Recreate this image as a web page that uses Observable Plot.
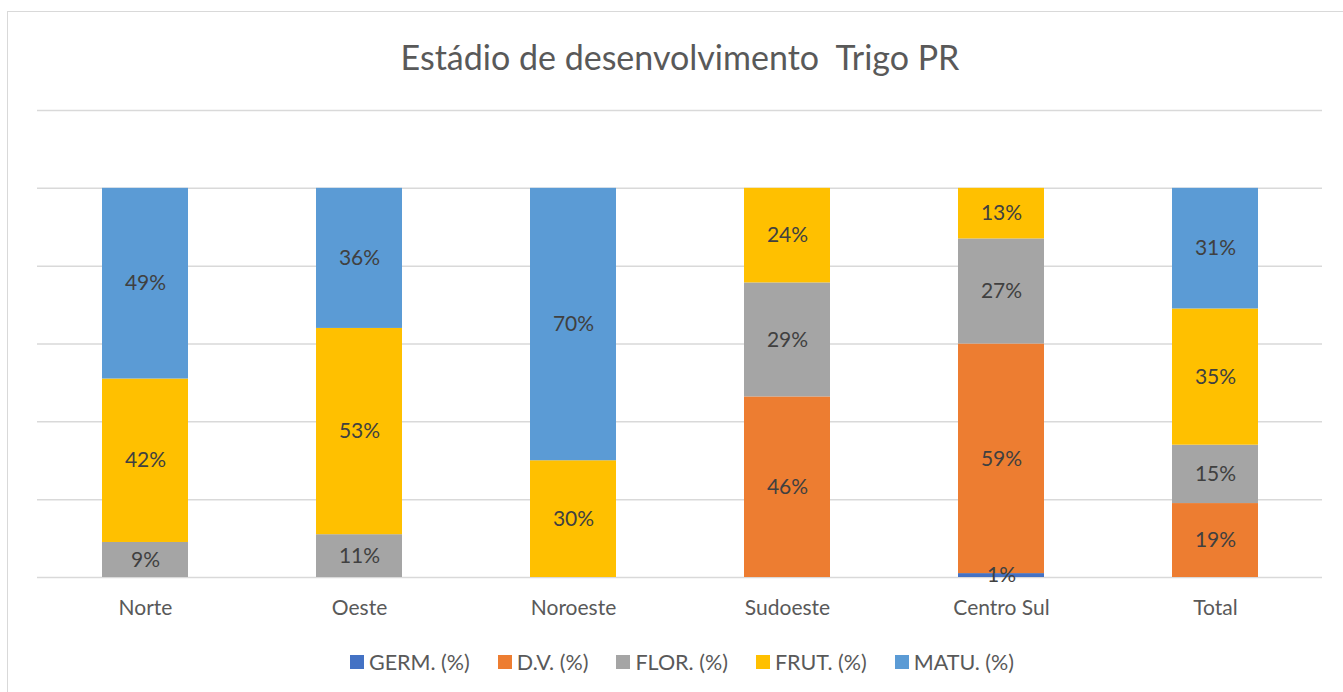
<!DOCTYPE html>
<html>
<head>
<meta charset="utf-8">
<script src="https://cdn.jsdelivr.net/npm/d3@7"></script>
<script src="https://cdn.jsdelivr.net/npm/@observablehq/plot@0.6"></script>
<style>
  html, body { margin: 0; padding: 0; background: #fff; overflow: hidden; }
  body { width: 1343px; height: 692px; position: relative; font-family: Lato, "Open Sans", sans-serif; }
  #frame { position: absolute; left: 7px; top: 11px; width: 1400px; height: 800px; border: 1.5px solid #d9d9d9; box-sizing: border-box; }
  #title { position: absolute; left: 0; top: 35px; width: 1360px; text-align: center; font-size: 34px; color: #595959; white-space: pre; line-height: 44px; }
  #chart { position: absolute; left: 0; top: 0; }
  #legend { position: absolute; left: 0; top: 648px; width: 1364px; display: flex; justify-content: center; gap: 28px; font-size: 21.5px; color: #595959; line-height: 28px; }
  .item { display: flex; align-items: center; gap: 5px; }
  .sw { width: 14px; height: 14px; display: inline-block; }
</style>
</head>
<body>
<div id="frame"></div>
<div id="chart"></div>
<div id="title">Estádio de desenvolvimento  Trigo PR</div>
<div id="legend"></div>
<script>
const regions = ["Norte", "Oeste", "Noroeste", "Sudoeste", "Centro Sul", "Total"];
const series = ["GERM. (%)", "D.V. (%)", "FLOR. (%)", "FRUT. (%)", "MATU. (%)"];
const colors = ["#4472C4", "#ED7D31", "#A5A5A5", "#FFC000", "#5B9BD5"];
const germ = [0, 0, 0, 0, 0.01, 0];
const dv   = [0, 0, 0, 0.464, 0.59, 0.19];
const flor = [0.09, 0.11, 0, 0.293, 0.27, 0.15];
const frut = [0.42, 0.53, 0.30, 0.243, 0.13, 0.35];
const matu = [0.49, 0.36, 0.70, 0, 0, 0.31];
const gridTicks = [0, 0.2, 0.4, 0.6, 0.8, 1.0, 1.2];

const seriesValues = [germ, dv, flor, frut, matu];
const data = [];
series.forEach((s, i) => {
  regions.forEach((r, j) => {
    const v = seriesValues[i][j];
    if (v > 0) data.push({region: r, stage: s, value: v});
  });
});
const fmt = d3.format(".0%");

const chart = Plot.plot({
  width: 1343,
  height: 637,
  marginTop: 110,
  marginBottom: 60,
  marginLeft: 37,
  marginRight: 21,
  style: {fontFamily: "Lato, 'Open Sans', sans-serif", background: "transparent"},
  x: {domain: regions, paddingInner: 0.6, paddingOuter: 0.3, label: null},
  y: {domain: [0, 1.2], axis: null},
  color: {domain: series, range: colors},
  marks: [
    Plot.ruleY(gridTicks, {stroke: "#d9d9d9", strokeWidth: 1.5}),
    Plot.barY(data, {x: "region", y: "value", fill: "stage", order: series}),
    Plot.text(data, Plot.stackY({x: "region", y: "value", z: "stage", order: series, text: d => fmt(d.value), fill: "#404040", fontSize: 21})),
    Plot.axisX({tickSize: 0, tickPadding: 23, fontSize: 21, color: "#595959", label: null})
  ]
});
document.getElementById("chart").appendChild(chart);

const legend = document.getElementById("legend");
series.forEach((s, i) => {
  const it = document.createElement("div");
  it.className = "item";
  it.innerHTML = `<span class="sw" style="background:${colors[i]}"></span><span>${s}</span>`;
  legend.appendChild(it);
});
</script>
</body>
</html>
